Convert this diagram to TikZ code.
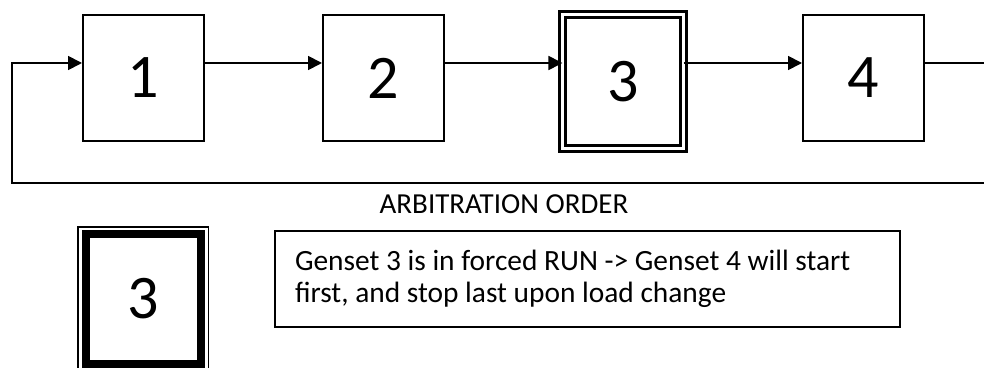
\documentclass[tikz,border=0pt]{standalone}
\usepackage{fontspec}
\setmainfont{Carlito}
\usetikzlibrary{arrows.meta}
\begin{document}
\begin{tikzpicture}[x=1pt,y=1pt,
  box/.style={draw, line width=2pt, minimum width=121pt, minimum height=126pt,
    inner sep=0pt, font=\fontsize{62}{62}\selectfont},
  conn/.style={line width=1.8pt, -{Triangle[length=14pt,width=14pt]}}]
\useasboundingbox (0,0) rectangle (984,367);
% main chain
\node[box] (b1) at (143.5,289) {1};
\node[box] (b2) at (383.5,289) {2};
\node[box, line width=3pt, double, double distance=3pt, outer sep=0pt,
  minimum width=121.25pt, minimum height=134pt] (b3) at (623.1,285.5) {3};
\node[box] (b4) at (863.5,289) {4};
\coordinate (loopR) at (1000,304);
\coordinate (loopL) at (12,184);
\draw[conn] (b1.east |- loopR) -- (b2.west |- loopR);
\draw[conn] (b2.east |- loopR) -- (b3.west |- loopR);
\draw[conn] (b3.east |- loopR) -- (b4.west |- loopR);
\draw[conn] (b4.east |- loopR) -- (loopR) |- (loopL) |- (b1.west |- loopR);
% label
\node[font=\fontsize{29}{29}\selectfont, inner sep=0pt] (order) at (504,163) {ARBITRATION ORDER};
% legend
\node[draw, line width=1.5pt, minimum width=130.7pt, minimum height=144pt, inner sep=0pt] (lg) at (143.35,68) {};
\node[draw, line width=8pt, minimum width=115pt, minimum height=130pt, inner sep=0pt,
  font=\fontsize{62}{62}\selectfont] (lgin) at (143.5,68) {3};
% note
\node[draw, line width=1.5pt, minimum width=625pt, minimum height=96pt,
  inner xsep=20pt, inner ysep=0pt, text width=585pt, align=flush left,
  font=\fontsize{29.4}{32}\selectfont] (note) at (587.5,88)
  {Genset 3 is in forced RUN -> Genset 4 will start\\first, and stop last upon load change};
\end{tikzpicture}
\end{document}
